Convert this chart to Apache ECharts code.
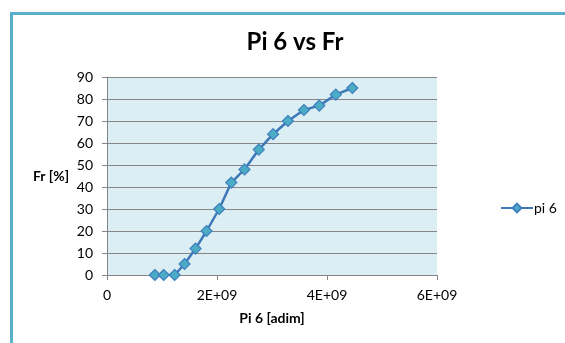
<!DOCTYPE html>
<html><head><meta charset="utf-8">
<script src="https://cdn.jsdelivr.net/npm/echarts@6/dist/echarts.min.js"></script>
<style>html,body{margin:0;padding:0;background:#fff}#c{width:565px;height:343px}</style>
</head><body><div id="c"></div>
<script>
const pi6 = [0.87e9, 1.03e9, 1.23e9, 1.41e9, 1.61e9, 1.81e9, 2.04e9, 2.26e9, 2.50e9, 2.76e9, 3.02e9, 3.29e9, 3.58e9, 3.86e9, 4.16e9, 4.46e9];
const fr = [0, 0, 0, 5, 12, 20, 30, 42, 48, 57, 64, 70, 75, 77, 82, 85];
const xTicks = {0: '0', 2e9: '2E+09', 4e9: '4E+09', 6e9: '6E+09'};
const font = 'Lato, "Open Sans", sans-serif';
const chart = echarts.init(document.getElementById('c'), null, {renderer: 'canvas'});
chart.setOption({
  animation: false,
  backgroundColor: '#fff',
  title: {text: 'Pi 6 vs Fr', left: 290, top: 25, textAlign: 'center',
    textStyle: {fontFamily: font, fontSize: 24, fontWeight: 'bold', color: '#000'}},
  graphic: [{type: 'rect', shape: {x: 11.5, y: 13.5, width: 600, height: 400},
    style: {fill: 'none', stroke: '#5ab0ca', lineWidth: 3}, z: 100}],
  legend: {left: 495, top: 196, itemWidth: 32, itemHeight: 11, itemGap: 4,
    textStyle: {fontFamily: font, fontSize: 14, color: '#000', padding: [0, 0, 0, -4]},
    data: ['pi 6']},
  grid: {left: 107, right: 128, top: 77, bottom: 68},
  xAxis: {type: 'value', min: 0, max: 6e9, interval: 2e9,
    name: 'Pi 6 [adim]', nameLocation: 'middle', nameGap: 36,
    nameTextStyle: {fontFamily: font, fontSize: 14, fontWeight: 'bold', color: '#000'},
    axisLine: {show: true, lineStyle: {color: '#868686'}},
    axisTick: {show: true, length: 5, lineStyle: {color: '#868686'}},
    splitLine: {show: false},
    axisLabel: {fontFamily: font, fontSize: 14, color: '#000', margin: 13,
      formatter: v => xTicks[v] !== undefined ? xTicks[v] : ''}},
  yAxis: {type: 'value', min: 0, max: 90, interval: 10,
    name: 'Fr [%]', nameLocation: 'middle', nameGap: 56, nameRotate: 0,
    nameTextStyle: {fontFamily: font, fontSize: 14, fontWeight: 'bold', color: '#000', align: 'center'},
    axisLine: {show: true, lineStyle: {color: '#868686'}},
    axisTick: {show: true, length: 5, lineStyle: {color: '#868686'}},
    splitLine: {show: true, lineStyle: {color: '#868686', width: 1}},
    splitArea: {show: true, areaStyle: {color: ['#dbeef4', '#dbeef4']}},
    axisLabel: {fontFamily: font, fontSize: 14, color: '#000', margin: 14}},
  series: [{name: 'pi 6', type: 'line', data: pi6.map((x, i) => [x, fr[i]]),
    symbol: 'diamond', symbolSize: 11,
    lineStyle: {color: '#3d78b8', width: 2.5},
    itemStyle: {color: '#4bacc6', borderColor: '#3f7fbd', borderWidth: 1.2}}]
});
</script></body></html>
